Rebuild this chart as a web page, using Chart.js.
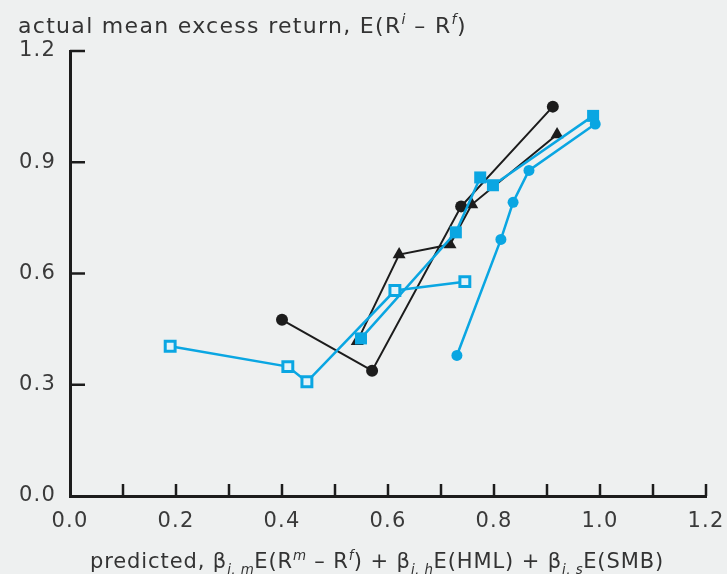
<!DOCTYPE html>
<html>
<head>
<meta charset="utf-8">
<script src="https://cdn.jsdelivr.net/npm/chart.js@4.4.1/dist/chart.umd.min.js"></script>
<style>
  html, body { margin: 0; padding: 0; background: #eef0f0; }
  canvas { display: block; }
</style>
</head>
<body>
<canvas id="myChart" width="727" height="574"></canvas>
<script>
// values
var blackCircleX = [0.40, 0.57, 0.738, 0.911];
var blackCircleY = [0.475, 0.338, 0.781, 1.05];

var triangleX = [0.542, 0.621, 0.717, 0.758, 0.919];
var triangleY = [0.417, 0.651, 0.678, 0.786, 0.975];

var openSquareX = [0.189, 0.411, 0.447, 0.613, 0.745];
var openSquareY = [0.404, 0.349, 0.308, 0.554, 0.578];

var fillSquareX = [0.549, 0.728, 0.774, 0.798, 0.987];
var fillSquareY = [0.425, 0.711, 0.859, 0.838, 1.025];

var blueCircleX = [0.730, 0.813, 0.836, 0.866, 0.991];
var blueCircleY = [0.379, 0.692, 0.792, 0.878, 1.003];

var xTickValues = [0.0, 0.1, 0.2, 0.3, 0.4, 0.5, 0.6, 0.7, 0.8, 0.9, 1.0, 1.1, 1.2];
var yTickValues = [0.0, 0.3, 0.6, 0.9, 1.2];

var titleParts = [
    {t: 'actual mean excess return, E(R'}, {t: 'i', sup: true, it: true},
    {t: ' \u2013 R'}, {t: 'f', sup: true, it: true}, {t: ')'}
];
var xLabelParts = [
    {t: 'predicted, \u03b2'}, {t: 'i, m', sub: true, it: true},
    {t: 'E(R'}, {t: 'm', sup: true, it: true}, {t: ' \u2013 R'}, {t: 'f', sup: true, it: true},
    {t: ') + \u03b2'}, {t: 'i, h', sub: true, it: true},
    {t: 'E(HML) + \u03b2'}, {t: 'i, s', sub: true, it: true}, {t: 'E(SMB)'}
];

var BLUE = '#0aa6e2';
var BLACK = '#1c1c1c';
var FONT = '"DejaVu Sans", sans-serif';

function pts(xs, ys) {
    return xs.map(function (x, i) { return {x: x, y: ys[i]}; });
}

function drawRich(ctx, x, y, parts, size, spacing) {
    ctx.textBaseline = 'alphabetic';
    ctx.textAlign = 'left';
    parts.forEach(function (p) {
        var small = p.sup || p.sub;
        var s = small ? size * 0.64 : size;
        ctx.font = (p.it ? 'italic ' : '') + s + 'px ' + FONT;
        ctx.letterSpacing = (small ? spacing * 0.5 : spacing) + 'px';
        var dy = p.sup ? -size * 0.4 : (p.sub ? size * 0.3 : 0);
        ctx.fillText(p.t, x, y + dy);
        x += ctx.measureText(p.t).width;
    });
}

var bgPlugin = {
    id: 'bg',
    beforeDraw: function (chart) {
        var ctx = chart.ctx;
        ctx.save();
        ctx.fillStyle = '#eef0f0';
        ctx.fillRect(0, 0, chart.width, chart.height);
        ctx.restore();
        // wider set of the tick labels
        ctx.letterSpacing = '1.2px';
    }
};

var axisPlugin = {
    id: 'axisExtras',
    afterDraw: function (chart) {
        var ctx = chart.ctx;
        var xs = chart.scales.x, ys = chart.scales.y;
        var a = chart.chartArea;
        ctx.save();
        ctx.strokeStyle = BLACK;
        ctx.lineWidth = 2.5;
        xTickValues.forEach(function (v) {
            if (v === 0) return;
            var px = xs.getPixelForValue(v);
            ctx.beginPath();
            ctx.moveTo(px, a.bottom);
            ctx.lineTo(px, a.bottom - 12);
            ctx.stroke();
        });
        yTickValues.forEach(function (v) {
            if (v === 0) return;
            var py = ys.getPixelForValue(v);
            ctx.beginPath();
            ctx.moveTo(a.left, py);
            ctx.lineTo(a.left + 15, py);
            ctx.stroke();
        });
        ctx.fillStyle = '#333333';
        drawRich(ctx, 18, 33, titleParts, 22, 1.3);
        drawRich(ctx, 90, 568, xLabelParts, 21, 0.9);
        ctx.restore();
    }
};

var ctx = document.getElementById('myChart').getContext('2d');
var myChart = new Chart(ctx, {
    type: 'scatter',
    data: {
        datasets: [{
            label: 'blue circles',
            data: pts(blueCircleX, blueCircleY),
            showLine: true,
            borderColor: BLUE,
            backgroundColor: BLUE,
            borderWidth: 2.5,
            pointStyle: 'circle',
            pointRadius: 5.5,
            pointBorderWidth: 0
        }, {
            label: 'filled squares',
            data: pts(fillSquareX, fillSquareY),
            showLine: true,
            borderColor: BLUE,
            backgroundColor: BLUE,
            borderWidth: 2.5,
            pointStyle: 'rect',
            pointRadius: 8.5,
            pointBorderWidth: 0
        }, {
            label: 'open squares',
            data: pts(openSquareX, openSquareY),
            showLine: true,
            borderColor: BLUE,
            backgroundColor: BLUE,
            borderWidth: 2.5,
            pointStyle: 'rect',
            pointRadius: 7,
            pointBackgroundColor: '#e4f3f9',
            pointBorderColor: BLUE,
            pointBorderWidth: 3
        }, {
            label: 'triangles',
            data: pts(triangleX, triangleY),
            showLine: true,
            borderColor: BLACK,
            backgroundColor: BLACK,
            borderWidth: 2,
            pointStyle: 'triangle',
            pointRadius: 7.5,
            pointBorderWidth: 0
        }, {
            label: 'black circles',
            data: pts(blackCircleX, blackCircleY),
            showLine: true,
            borderColor: BLACK,
            backgroundColor: BLACK,
            borderWidth: 2,
            pointStyle: 'circle',
            pointRadius: 6,
            pointBorderWidth: 0
        }]
    },
    options: {
        responsive: false,
        maintainAspectRatio: false,
        animation: false,
        layout: {
            padding: {top: 51, right: 21, left: 0, bottom: 0}
        },
        plugins: {
            legend: {display: false},
            tooltip: {enabled: false}
        },
        scales: {
            x: {
                type: 'linear',
                min: 0,
                max: 1.2,
                afterFit: function (scale) {
                    scale.height = 78;
                    scale.paddingLeft = 0;
                    scale.paddingRight = 0;
                },
                afterBuildTicks: function (scale) {
                    scale.ticks = xTickValues.map(function (v) { return {value: v}; });
                },
                grid: {display: false, drawTicks: false},
                border: {display: true, color: BLACK, width: 3},
                ticks: {
                    autoSkip: false,
                    maxRotation: 0,
                    padding: 13,
                    color: '#3a3a3a',
                    font: {family: FONT, size: 21},
                    callback: function (v, i) {
                        return i % 2 === 0 ? Number(v).toFixed(1) : '';
                    }
                }
            },
            y: {
                type: 'linear',
                min: 0,
                max: 1.2,
                afterFit: function (scale) {
                    scale.width = 70;
                    scale.paddingTop = 0;
                    scale.paddingBottom = 0;
                },
                afterBuildTicks: function (scale) {
                    scale.ticks = yTickValues.map(function (v) { return {value: v}; });
                },
                grid: {display: false, drawTicks: false},
                border: {display: true, color: BLACK, width: 3},
                ticks: {
                    padding: 14,
                    color: '#3a3a3a',
                    font: {family: FONT, size: 21},
                    callback: function (v) { return Number(v).toFixed(1); }
                }
            }
        }
    },
    plugins: [bgPlugin, axisPlugin]
});
</script>
</body>
</html>
